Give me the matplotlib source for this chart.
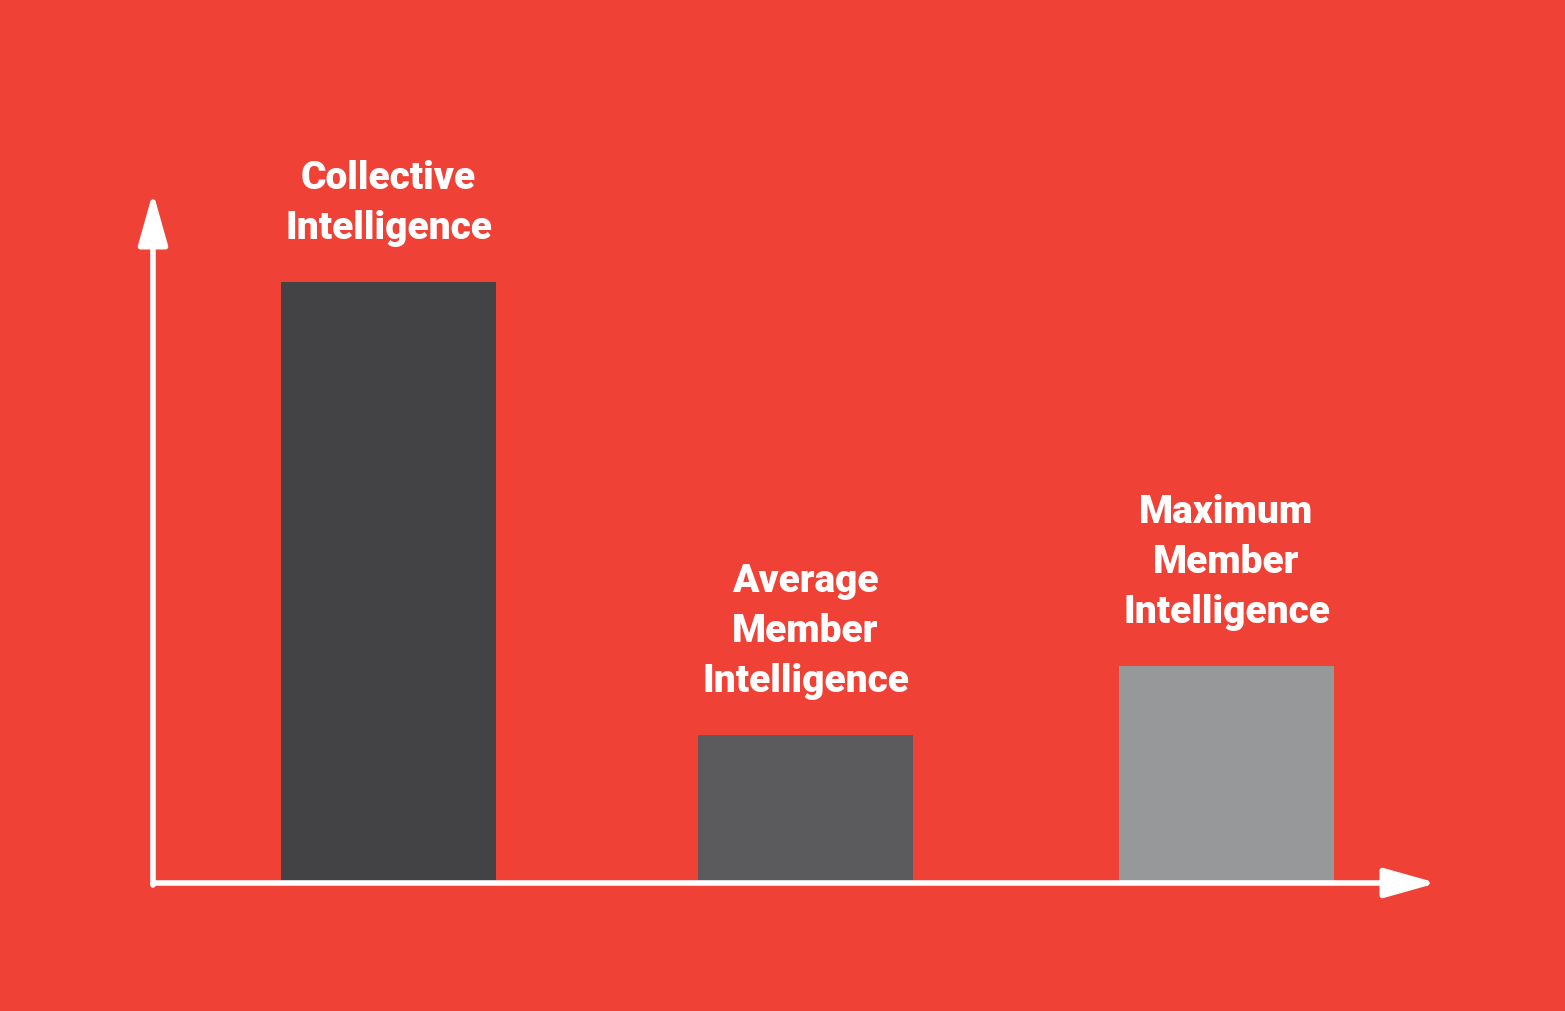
import matplotlib
matplotlib.use("Agg")
import matplotlib.pyplot as plt

categories = ["Collective\nIntelligence", "Average\nMember\nIntelligence", "Maximum\nMember\nIntelligence"]
values = [599, 146, 215]
positions = [235.5, 652.5, 1073.5]
colors = ["#434345", "#5b5b5d", "#97989a"]

W, H = 1565, 1011
fig = plt.figure(figsize=(W/100, H/100), dpi=100)
fig.patch.set_facecolor("#EF4136")
ax = fig.add_axes([153/W, (H-881)/H, (1437-153)/W, (881-192)/H])
ax.set_facecolor("none")
ax.set_xlim(0, 1284)
ax.set_ylim(0, 689)
ax.bar(positions, values, width=215, color=colors)
for x, v, lab in zip(positions, values, categories):
    ax.text(x, v + 35, lab, ha="center", va="bottom", color="white",
            fontsize=28, fontweight="black", family="Roboto", linespacing=1.45)
for s in ax.spines.values():
    s.set_visible(False)
ax.set_xticks([]); ax.set_yticks([])
# axes arrows
ax.annotate("", xy=(1284, -2), xytext=(0, -2), xycoords="data", annotation_clip=False,
            arrowprops=dict(arrowstyle="-|>,head_length=3.2,head_width=0.9", color="white", lw=4, shrinkA=0, shrinkB=0))
ax.annotate("", xy=(0, 689), xytext=(0, -4), xycoords="data", annotation_clip=False,
            arrowprops=dict(arrowstyle="-|>,head_length=3.2,head_width=0.9", color="white", lw=4, shrinkA=0, shrinkB=0))
fig.savefig("out.png", dpi=100, facecolor=fig.get_facecolor())
